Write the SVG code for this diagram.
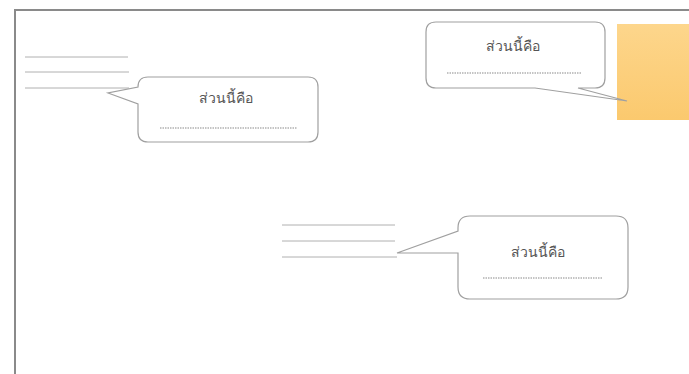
<svg xmlns="http://www.w3.org/2000/svg" width="689" height="374" viewBox="0 0 689 374">
  <defs>
    <linearGradient id="org" x1="0" y1="0" x2="0" y2="1">
      <stop offset="0" stop-color="#FDD68C"/>
      <stop offset="1" stop-color="#FBC96E"/>
    </linearGradient>
  </defs>
  <style>
    .frame { fill: none; stroke: #8a8a8a; stroke-width: 2; }
    .callout { fill: #ffffff; stroke: #a0a0a0; stroke-width: 1.2; }
    .rule { stroke: #b0b0b0; stroke-width: 1; fill: none; }
    .dots { stroke: #8a8a8a; stroke-width: 1.2; stroke-dasharray: 1.5 1; fill: none; }
    .lbl { font-family: "Noto Sans", "Liberation Sans", sans-serif; font-size: 14px; fill: #555555; text-anchor: middle; }
  </style>
  <rect width="689" height="374" fill="#ffffff"/>
  <path class="frame" d="M 15,374 V 10 H 689"/>

  <g id="orange-box">
    <rect x="617" y="24" width="72" height="96" fill="url(#org)"/>
  </g>

  <g id="connectors">
    <line class="rule" x1="25" y1="57" x2="128" y2="57"/>
    <line class="rule" x1="25" y1="72" x2="129" y2="72"/>
    <line class="rule" x1="25" y1="88" x2="129" y2="88"/>
    <line class="rule" x1="282" y1="225" x2="395" y2="225"/>
    <line class="rule" x1="282" y1="241" x2="395" y2="241"/>
    <line class="rule" x1="282" y1="257" x2="397" y2="257"/>
  </g>

  <g id="callout-1">
    <path class="callout" d="M 148,77 H 308 Q 318,77 318,87 V 132 Q 318,142 308,142 H 148 Q 138,142 138,132 V 104 L 108,93 L 138,87 Q 138,77 148,77 Z"/>
    <text class="lbl" x="226" y="103">ส่วนนี้คือ</text>
    <line class="dots" x1="160" y1="128" x2="297" y2="128"/>
  </g>

  <g id="callout-2">
    <path class="callout" d="M 436,22 H 595 Q 605,22 605,32 V 78 Q 605,88 595,88 H 578 L 627,101 L 535,88 H 436 Q 426,88 426,78 V 32 Q 426,22 436,22 Z"/>
    <text class="lbl" x="513" y="51">ส่วนนี้คือ</text>
    <line class="dots" x1="447" y1="73" x2="582" y2="73"/>
  </g>

  <g id="callout-3">
    <path class="callout" d="M 470,216 H 616 Q 628,216 628,228 V 287 Q 628,299 616,299 H 470 Q 458,299 458,287 V 253 L 397,253 L 458,231 V 228 Q 458,216 470,216 Z"/>
    <text class="lbl" x="538" y="257">ส่วนนี้คือ</text>
    <line class="dots" x1="483" y1="278" x2="603" y2="278"/>
  </g>
</svg>
